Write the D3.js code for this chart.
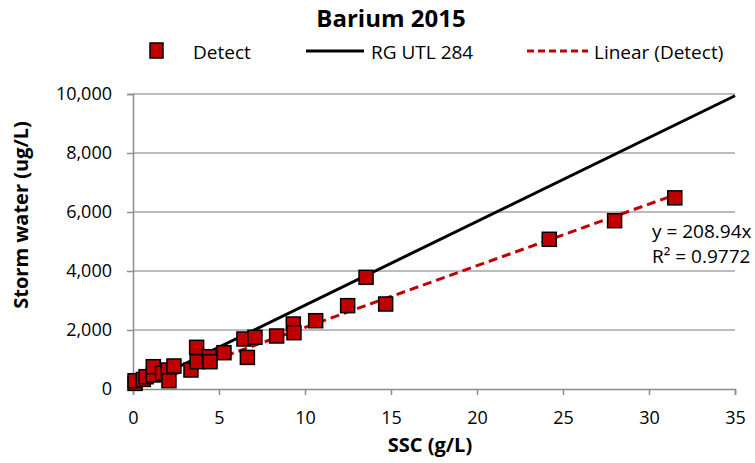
<!DOCTYPE html>
<html>
<head>
<meta charset="utf-8">
<script src="https://cdn.jsdelivr.net/npm/d3@7"></script>
<style>
  body { margin: 0; background: #fff; }
  text { font-family: "Open Sans", "Liberation Sans", sans-serif; fill: #000; }
</style>
</head>
<body>
<div id="chart"></div>
<script>
// SSC (g/L) and storm water barium (ug/L) for detected samples
var sscValues = [0.12, 0.12, 0.60, 0.76, 1.18, 1.18, 1.72, 2.05, 2.09, 2.38, 3.37, 3.73, 3.70, 4.43, 4.48,
  5.29, 6.45, 6.65, 7.09, 8.35, 9.32, 9.36, 10.62, 12.48, 13.55, 14.69, 24.2, 28.0, 31.5];
var bariumValues = [190, 281, 325, 417, 475, 756, 532, 644, 281, 780, 644, 925, 1413, 1095, 925,
  1231, 1695, 1071, 1752, 1797, 2203, 1908, 2315, 2825, 3786, 2881, 5075, 5705, 6480];

var xTicks = [0, 5, 10, 15, 20, 25, 30, 35];
var yTicks = [0, 2000, 4000, 6000, 8000, 10000];

var utlSlope = 284;       // RG UTL 284
var trendSlope = 208.94;  // Linear (Detect)
var trendR2 = "0.9772";

var svgWidth = 755;
var svgHeight = 463;

var margin = { top: 94, right: 20, bottom: 74, left: 133 };
var chartWidth = svgWidth - margin.left - margin.right;
var chartHeight = svgHeight - margin.top - margin.bottom;

var svg = d3.select("#chart").append("svg")
  .attr("width", svgWidth)
  .attr("height", svgHeight);

var chartGroup = svg.append("g")
  .attr("transform", `translate(${margin.left}, ${margin.top})`);

var xScale = d3.scaleLinear().domain([0, 35]).range([0, chartWidth]);
var yScale = d3.scaleLinear().domain([0, 10000]).range([chartHeight, 0]);

// gridlines
chartGroup.append("g").selectAll("line")
  .data(yTicks.slice(1))
  .enter()
  .append("line")
  .attr("x1", 0)
  .attr("x2", chartWidth)
  .attr("y1", d => yScale(d))
  .attr("y2", d => yScale(d))
  .attr("stroke", "#a6a6a6")
  .attr("stroke-width", 1.5);

// axes
var bottomAxis = d3.axisBottom(xScale).tickValues(xTicks).tickSize(6).tickPadding(16);
var leftAxis = d3.axisLeft(yScale).tickValues(yTicks).tickSize(6).tickPadding(15)
  .tickFormat(d3.format(","));

var xAxis = chartGroup.append("g")
  .attr("transform", `translate(0, ${chartHeight})`)
  .call(bottomAxis);
var yAxis = chartGroup.append("g").call(leftAxis);

[xAxis, yAxis].forEach(function(ax) {
  ax.select(".domain").attr("stroke", "#8c8c8c").attr("stroke-width", 1.5);
  ax.selectAll(".tick line").attr("stroke", "#8c8c8c").attr("stroke-width", 1.5);
  ax.selectAll(".tick text")
    .attr("font-size", "18px")
    .attr("font-family", "'Open Sans', sans-serif")
    .attr("fill", "#000");
});

// RG UTL line
chartGroup.append("line")
  .attr("x1", xScale(0))
  .attr("y1", yScale(0))
  .attr("x2", xScale(35))
  .attr("y2", yScale(35 * utlSlope))
  .attr("stroke", "#000")
  .attr("stroke-width", 3);

// linear trendline through origin
var xMax = d3.max(sscValues);
chartGroup.append("line")
  .attr("x1", xScale(0))
  .attr("y1", yScale(0))
  .attr("x2", xScale(xMax))
  .attr("y2", yScale(xMax * trendSlope))
  .attr("stroke", "#c00000")
  .attr("stroke-width", 3)
  .attr("stroke-dasharray", "9,5");

// detect points
var pts = sscValues.map((x, i) => ({ x: x, y: bariumValues[i] }));
var sz = 14;
chartGroup.append("g").selectAll("rect")
  .data(pts)
  .enter()
  .append("rect")
  .attr("x", d => xScale(d.x) - sz / 2)
  .attr("y", d => yScale(d.y) - sz / 2)
  .attr("width", sz)
  .attr("height", sz)
  .attr("fill", "#c00000")
  .attr("stroke", "#000")
  .attr("stroke-width", 1.5);

// trendline equation
var eq = svg.append("g").attr("font-size", "19px");
eq.append("text").attr("x", 652).attr("y", 238).text("y = " + trendSlope + "x");
eq.append("text").attr("x", 652).attr("y", 263).text("R\u00b2 = " + trendR2);

// title
svg.append("text")
  .attr("x", 391)
  .attr("y", 27)
  .attr("text-anchor", "middle")
  .attr("font-size", "24px")
  .attr("font-weight", "bold")
  .text("Barium 2015");

// axis titles
svg.append("text")
  .attr("x", 430)
  .attr("y", 452)
  .attr("text-anchor", "middle")
  .attr("font-size", "20px")
  .attr("font-weight", "bold")
  .text("SSC (g/L)");

svg.append("text")
  .attr("transform", "translate(28, 215) rotate(-90)")
  .attr("text-anchor", "middle")
  .attr("font-size", "20px")
  .attr("font-weight", "bold")
  .text("Storm water (ug/L)");

// legend
var legend = svg.append("g").attr("font-size", "19px");
legend.append("rect")
  .attr("x", 150).attr("y", 43).attr("width", 13).attr("height", 15)
  .attr("fill", "#c00000").attr("stroke", "#000").attr("stroke-width", 1.5);
legend.append("text").attr("x", 193).attr("y", 59).text("Detect");

legend.append("line")
  .attr("x1", 306).attr("x2", 364).attr("y1", 51).attr("y2", 51)
  .attr("stroke", "#000").attr("stroke-width", 3);
legend.append("text").attr("x", 371).attr("y", 59).text("RG UTL 284");

legend.append("line")
  .attr("x1", 527).attr("x2", 588).attr("y1", 51).attr("y2", 51)
  .attr("stroke", "#c00000").attr("stroke-width", 3)
  .attr("stroke-dasharray", "7,4");
legend.append("text").attr("x", 594).attr("y", 59).text("Linear (Detect)");
</script>
</body>
</html>
